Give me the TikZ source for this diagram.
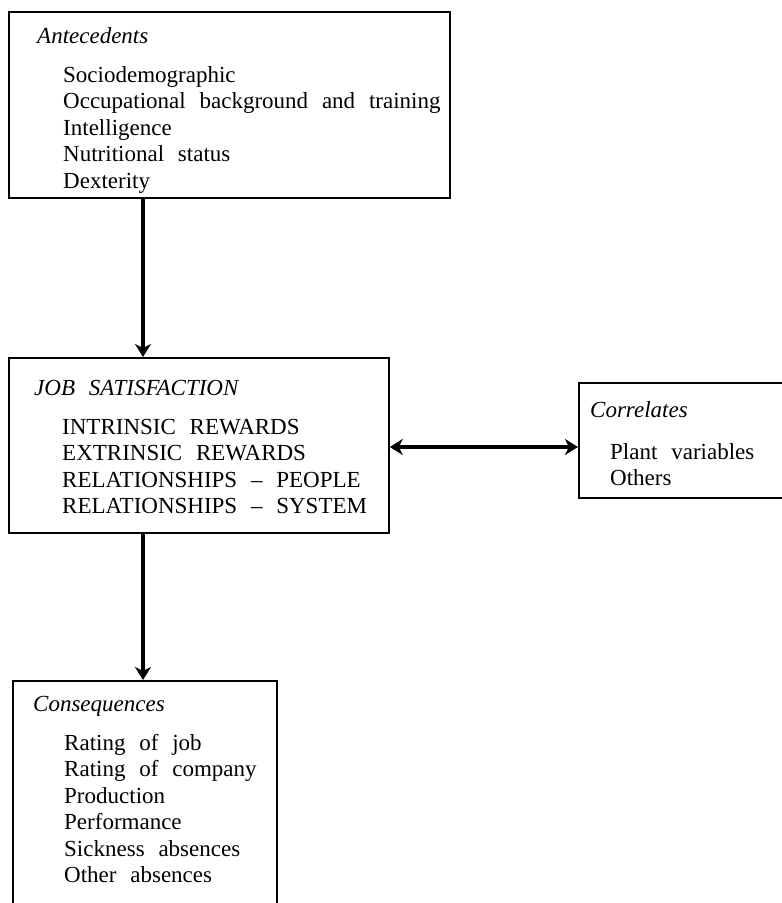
\documentclass[tikz,border=0pt]{standalone}
\usepackage{fontspec}
\setmainfont{Liberation Serif}
\usetikzlibrary{arrows.meta,calc}
\newcommand\dtxt{\fontsize{23}{26.5}\selectfont\spaceskip=0.6em plus 0.1em\relax}
\begin{document}
\begin{tikzpicture}[x=1pt,y=-1pt,
  box/.style={draw, line width=1.8pt, rectangle, inner sep=0pt, anchor=north west},
  ttl/.style={anchor=base west, inner sep=0pt, font=\itshape\dtxt},
  itm/.style={anchor=base west, inner sep=0pt, font=\dtxt},
  arr/.style={line width=3.6pt, -{Stealth[length=13pt,width=16pt,inset=4pt]}},
  darr/.style={line width=3.4pt, {Stealth[length=13pt,width=16pt,inset=4pt]}-{Stealth[length=13pt,width=16pt,inset=4pt]}},
]
\fill[white] (0,0) rectangle (782,903);
\useasboundingbox (0,0) rectangle (782,903);

% boxes
\node[box, minimum width=441pt, minimum height=186pt] (ante) at (8,11) {};
\node[box, minimum width=380pt, minimum height=175pt] (job) at (8,357) {};
\node[box, minimum width=212pt, minimum height=115pt] (corr) at (578,382) {};
\node[box, minimum width=264pt, minimum height=260pt] (cons) at (12,680) {};

% Antecedents
\node[ttl] (anteT) at (37,43) {Antecedents};
\node[itm] (a1) at (63,82) {Sociodemographic};
\node[itm] (a2) at (63,108.5) {Occupational background and training};
\node[itm] (a3) at (63,135) {Intelligence};
\node[itm] (a4) at (63,161.5) {Nutritional status};
\node[itm] (a5) at (63,188) {Dexterity};

% Job satisfaction
\node[ttl] (jobT) at (34,395) {JOB SATISFACTION};
\node[itm] (j1) at (62,434) {INTRINSIC REWARDS};
\node[itm] (j2) at (62,460.5) {EXTRINSIC REWARDS};
\node[itm] (j3) at (62,487) {RELATIONSHIPS -- PEOPLE};
\node[itm] (j4) at (62,513.5) {RELATIONSHIPS -- SYSTEM};

% Correlates
\node[ttl] (corrT) at (590,417) {Correlates};
\node[itm] (c1) at (610,459) {Plant variables};
\node[itm] (c2) at (610,485.5) {Others};

% Consequences
\node[ttl] (consT) at (33,711) {Consequences};
\node[itm] (k1) at (64,750) {Rating of job};
\node[itm] (k2) at (64,776.5) {Rating of company};
\node[itm] (k3) at (64,803) {Production};
\node[itm] (k4) at (64,829.5) {Performance};
\node[itm] (k5) at (64,856) {Sickness absences};
\node[itm] (k6) at (64,882.5) {Other absences};

% connectors
\coordinate (ax) at (143,0);
\coordinate (dy) at (0,447);
\draw[arr] (ante.south -| ax) -- (job.north -| ax);
\draw[arr] (job.south -| ax) -- (cons.north -| ax);
\draw[darr] (job.east |- dy) -- (corr.west |- dy);
\end{tikzpicture}
\end{document}
